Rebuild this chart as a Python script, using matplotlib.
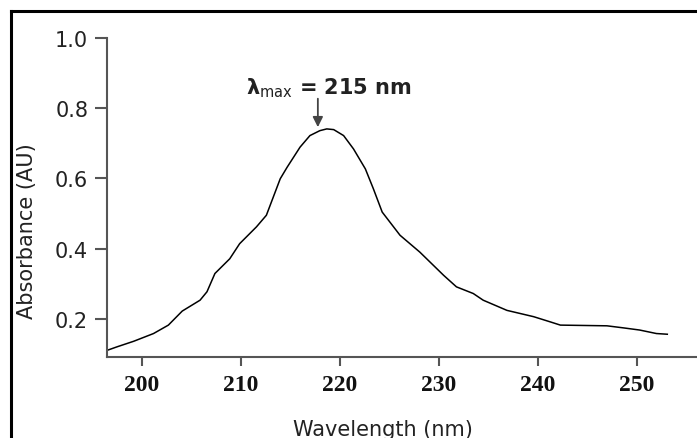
import numpy as np
import matplotlib
matplotlib.use("Agg")
import matplotlib.pyplot as plt
from matplotlib.lines import Line2D

# spectrum
wavelength = [196.6, 197.5, 199.2, 201.2, 202.7, 204.1, 205.9, 206.6, 207.4, 208.9,
              209.9, 211.6, 212.6, 214.0, 214.7, 216.0, 217.0, 218.0, 218.7, 219.4,
              220.4, 221.4, 222.6, 223.4, 224.3, 226.1, 228.1, 230.5, 231.8, 233.5,
              234.5, 236.9, 239.6, 241.3, 242.3, 247.0, 248.7, 250.3, 252.0, 253.1]
absorbance = [0.111, 0.120, 0.136, 0.158, 0.182, 0.222, 0.253, 0.277, 0.329, 0.371,
              0.414, 0.462, 0.495, 0.599, 0.632, 0.689, 0.722, 0.736, 0.741, 0.739,
              0.722, 0.684, 0.627, 0.571, 0.504, 0.438, 0.390, 0.324, 0.291, 0.272,
              0.253, 0.224, 0.206, 0.191, 0.182, 0.180, 0.174, 0.168, 0.158, 0.156]

x_ticks = [200, 210, 220, 230, 240, 250]
y_ticks = [0.2, 0.4, 0.6, 0.8, 1.0]

W, H = 697, 439
fig = plt.figure(figsize=(W / 100, H / 100), dpi=100)
ax = fig.add_axes([107 / W, 1 - 357.7 / H, 1 - 107 / W, (357.7 - 39) / H])

ax.plot(wavelength, absorbance, color='black', lw=1.1)

ax.set_xlim(196.5, 256.1)
ax.set_ylim(0.092, 1.0)
ax.set_xticks(x_ticks)
ax.set_yticks(y_ticks)
ax.set_yticklabels(['%.1f' % v for v in y_ticks], fontsize=15, family='DejaVu Sans', color='#222')
ax.set_xticklabels([str(v) for v in x_ticks], fontsize=17, family='Liberation Serif',
                   fontweight='bold', color='#111')

for s in ['top', 'right']:
    ax.spines[s].set_visible(False)
for s in ['left', 'bottom']:
    ax.spines[s].set_color('#555')
    ax.spines[s].set_linewidth(1.5)
ax.tick_params(axis='y', direction='out', length=8.5, width=1.5, color='#555', pad=5)
ax.tick_params(axis='x', direction='out', length=6.5, width=1.5, color='#555', pad=6)

# peak marker
ax.annotate('', xy=(217.8, 0.738), xytext=(217.8, 0.835),
            arrowprops=dict(arrowstyle='-|>', color='#444', lw=1.3, mutation_scale=15))
ax.text(218.9, 0.861, r'$\boldsymbol{\lambda}_{\mathrm{max}}$ = 215 nm', ha='center', va='center',
        fontsize=15, fontweight='bold', color='#222')

fig.text(383 / W, 1 - 430 / H, 'Wavelength (nm)', ha='center', va='center', fontsize=15, color='#222')
fig.text(27 / W, 1 - 231 / H, 'Absorbance (AU)', ha='center', va='center', rotation=90,
         fontsize=15, color='#222')

# frame round the picture
fig.add_artist(Line2D([11 / W, 1], [1 - 12 / H, 1 - 12 / H], color='black', lw=2.2,
                      transform=fig.transFigure))
fig.add_artist(Line2D([11 / W, 11 / W], [0, 1 - 12 / H], color='black', lw=2.2,
                      transform=fig.transFigure))

fig.savefig('out.png', dpi=100)
